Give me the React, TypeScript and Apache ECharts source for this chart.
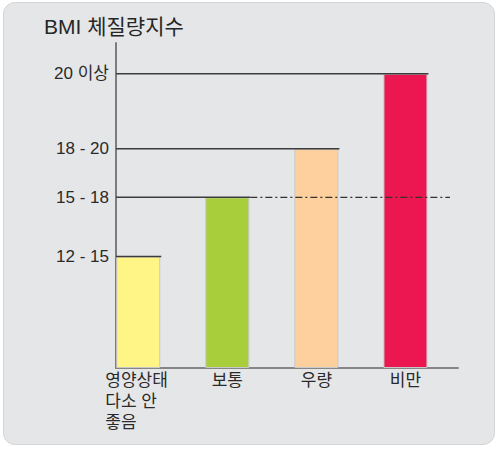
import React, { useEffect, useRef } from "react";
import * as echarts from "echarts";

const categories = ["영양상태\n다소 안\n좋음", "보통", "우량", "비만"];
const barValues = [11.15, 17.07, 21.93, 29.43];
const tickLabels = ["12 - 15", "15 - 18", "18 - 20", "20 이상"];
const barColors = ["#fff587", "#a8cf3b", "#fed09d", "#ec1650"];
const referenceIndex = 1; // dash-dot reference line continues from "보통"
const referenceEnd = 3.5;

const FONT = '"Liberation Sans", "Noto Sans CJK KR", sans-serif';

export default function App() {
  const ref = useRef<HTMLDivElement>(null);

  useEffect(() => {
    if (!ref.current) return;
    const chart = echarts.init(ref.current, null, { renderer: "svg" });
    const halfBar = 22;
    chart.setOption({
      animation: false,
      backgroundColor: "transparent",
      textStyle: { fontFamily: FONT },
      title: {
        text: "BMI 체질량지수",
        left: 39,
        top: 11,
        textStyle: { fontSize: 21, fontWeight: "normal", color: "#262626", fontFamily: FONT },
      },
      grid: { left: 116, right: 46, top: 43, bottom: 81 },
      xAxis: {
        type: "value",
        min: -0.25,
        max: 3.59,
        axisLine: { show: true, onZero: false, lineStyle: { color: "#858585", width: 2 } },
        axisTick: { show: false },
        axisLabel: { show: false },
        splitLine: { show: false },
      },
      yAxis: {
        type: "value",
        min: 0,
        max: 32.5,
        axisLine: { show: true, onZero: false, lineStyle: { color: "#7d7d7d", width: 2 } },
        axisTick: { show: false },
        splitLine: { show: false },
        axisLabel: {
          customValues: barValues,
          formatter: (v: number) => {
            const idx = barValues.findIndex((b) => Math.abs(b - v) < 1e-6);
            return idx >= 0 ? tickLabels[idx] : "";
          },
          margin: 7,
          fontSize: 17,
          color: "#2a2a2a",
          fontFamily: FONT,
        },
      },
      series: [
        {
          type: "bar",
          barWidth: 44,
          data: barValues.map((v, i) => ({
            value: [i, v],
            itemStyle: { color: barColors[i] },
          })),
          itemStyle: { borderColor: "#c8c8c8", borderWidth: 1 },
          label: {
            show: true,
            position: "bottom",
            distance: 2,
            formatter: (p: any) => {
              const lines = categories[p.dataIndex].split("\n");
              const key = lines.length > 1 ? "b" : "a";
              return lines.map((l) => `{${key}|${l}}`).join("\n");
            },
            rich: {
              a: { fontSize: 17, lineHeight: 21, color: "#2a2a2a", fontFamily: FONT },
              b: { fontSize: 17, lineHeight: 21, color: "#2a2a2a", fontFamily: FONT, width: 66, align: "left" },
            },
          },
          z: 2,
        },
        {
          type: "custom",
          z: 5,
          data: barValues.map((v, i) => [i, v]),
          encode: { x: 0, y: 1 },
          renderItem: (params: any, api: any) => {
            const i = api.value(0);
            const v = api.value(1);
            const top = api.coord([i, v]);
            const cs = params.coordSys;
            const children: any[] = [
              {
                type: "line",
                shape: { x1: cs.x, y1: top[1], x2: top[0] + halfBar + 1, y2: top[1] },
                style: { stroke: "#3c3c3c", lineWidth: 1.6 },
              },
            ];
            if (i === referenceIndex) {
              const end = api.coord([referenceEnd, v]);
              children.push({
                type: "line",
                shape: { x1: top[0] + halfBar + 1, y1: top[1], x2: end[0], y2: top[1] },
                style: { stroke: "#333", lineWidth: 1.2, lineDash: [7, 3, 2, 3] },
              });
            }
            return { type: "group", children };
          },
        },
      ],
    });
    return () => chart.dispose();
  }, []);

  return (
    <div style={{ position: "absolute", left: 0, top: 0, width: 504, height: 449, background: "#fff" }}>
      <div
        style={{
          position: "absolute",
          left: 3,
          top: 2,
          width: 492,
          height: 443,
          borderRadius: 12,
          background: "#e5e6e8",
          border: "1px solid #d4d5d7",
          boxSizing: "border-box",
        }}
      />
      <div ref={ref} style={{ position: "absolute", left: 0, top: 0, width: 504, height: 449 }} />
    </div>
  );
}
